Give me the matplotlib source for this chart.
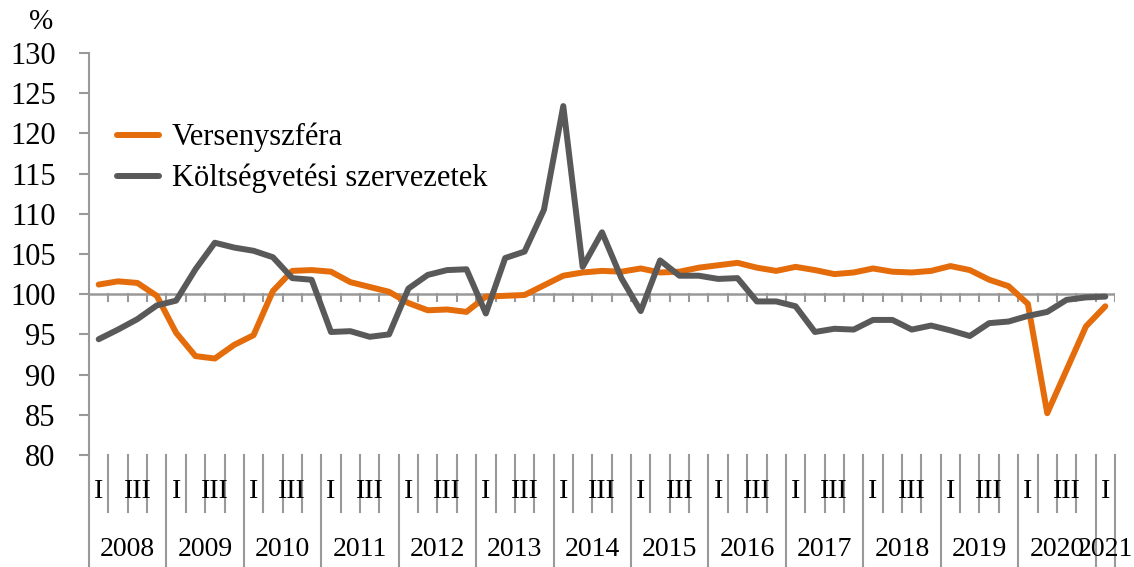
import matplotlib.pyplot as plt
import matplotlib.transforms as mtransforms

plt.rcParams['font.family'] = ['Liberation Serif', 'DejaVu Serif']

years = ['2008', '2009', '2010', '2011', '2012', '2013', '2014',
         '2015', '2016', '2017', '2018', '2019', '2020', '2021']
quarter_labels = ['I', '', 'III', '']

# 2008 Q1 - 2021 Q1
versenyszfera = [101.2, 101.6, 101.4, 99.8, 95.2, 92.3, 92.0, 93.7, 94.9, 100.4,
                 102.9, 103.0, 102.8, 101.5, 100.9, 100.3, 98.9, 98.0, 98.1, 97.8,
                 99.7, 99.8, 99.9, 101.1, 102.3, 102.7, 102.9, 102.8, 103.2, 102.7,
                 102.8, 103.3, 103.6, 103.9, 103.3, 102.9, 103.4, 103.0, 102.5, 102.7,
                 103.2, 102.8, 102.7, 102.9, 103.5, 103.0, 101.8, 101.0, 98.8, 85.2,
                 90.6, 96.0, 98.5]
koltsegvetesi = [94.4, 95.6, 96.9, 98.6, 99.2, 103.1, 106.4, 105.8, 105.4, 104.6,
                 102.0, 101.8, 95.3, 95.4, 94.7, 95.0, 100.7, 102.4, 103.0, 103.1,
                 97.6, 104.5, 105.3, 110.5, 123.4, 103.4, 107.7, 102.0, 97.9, 104.2,
                 102.3, 102.3, 101.9, 102.0, 99.1, 99.1, 98.5, 95.3, 95.7, 95.6,
                 96.8, 96.8, 95.6, 96.1, 95.5, 94.8, 96.4, 96.6, 97.3, 97.8,
                 99.3, 99.6, 99.7]

orange = '#E46C0A'
gray = '#595959'
axis_gray = '#999999'

n = len(versenyszfera)
x = list(range(n))

fig = plt.figure(figsize=(11.34, 5.67), dpi=100)
ax = fig.add_axes([89 / 1134, 1 - 455 / 567, (1115 - 89) / 1134, (455 - 53) / 567])

ax.plot(x, versenyszfera, color=orange, lw=4.3, solid_capstyle='round',
        solid_joinstyle='round', label='Versenyszféra', zorder=3)
ax.plot(x, koltsegvetesi, color=gray, lw=4.3, solid_capstyle='round',
        solid_joinstyle='round', label='Költségvetési szervezetek', zorder=3)

ax.set_xlim(-0.5, n - 0.5)
ax.set_ylim(80, 130)
ax.set_yticks(range(80, 131, 5))
ax.tick_params(axis='y', labelsize=22, length=7, width=1.5, color=axis_gray, pad=17)
ax.set_xticks([])
for s in ['top', 'right', 'bottom']:
    ax.spines[s].set_visible(False)
ax.spines['left'].set_color(axis_gray)
ax.spines['left'].set_linewidth(1.5)

# category axis crossing at 100
ax.axhline(100, color=axis_gray, lw=1.8, zorder=2)
for i in range(1, n + 1):
    ax.plot([i - 0.5, i - 0.5], [100, 99.1], color=axis_gray, lw=1.5, zorder=2)

ax.text(-0.035, 1.045, '%', transform=ax.transAxes, fontsize=21, ha='right', va='bottom')

# two-level category labels below the plot
trans = mtransforms.blended_transform_factory(ax.transData, ax.transAxes)
for i in range(n):
    q = i % 4
    if quarter_labels[q]:
        ax.text(i, -0.092, quarter_labels[q], transform=trans, fontsize=20,
                ha='center', va='center', clip_on=False)
    if i > 0 and q != 0:
        ax.plot([i - 0.5, i - 0.5], [0, -0.142], transform=trans, color=axis_gray,
                lw=1.5, clip_on=False)
for k, yr in enumerate(years):
    start = 4 * k
    end = min(4 * k + 4, n)
    ax.text((start + end - 1) / 2, -0.236, yr, transform=trans, fontsize=20,
            ha='center', va='center', clip_on=False)
for b in range(0, n + 4, 4):
    xb = min(b, n) - 0.5
    ax.plot([xb, xb], [0, -0.28], transform=trans, color=axis_gray,
            lw=1.5, clip_on=False)

ax.legend(loc='upper left', bbox_to_anchor=(0.027, 0.826), frameon=False, fontsize=22,
          handlelength=1.4, handletextpad=0.4, labelspacing=0.37, borderaxespad=0,
          borderpad=0)

plt.savefig('out.png', dpi=100)
